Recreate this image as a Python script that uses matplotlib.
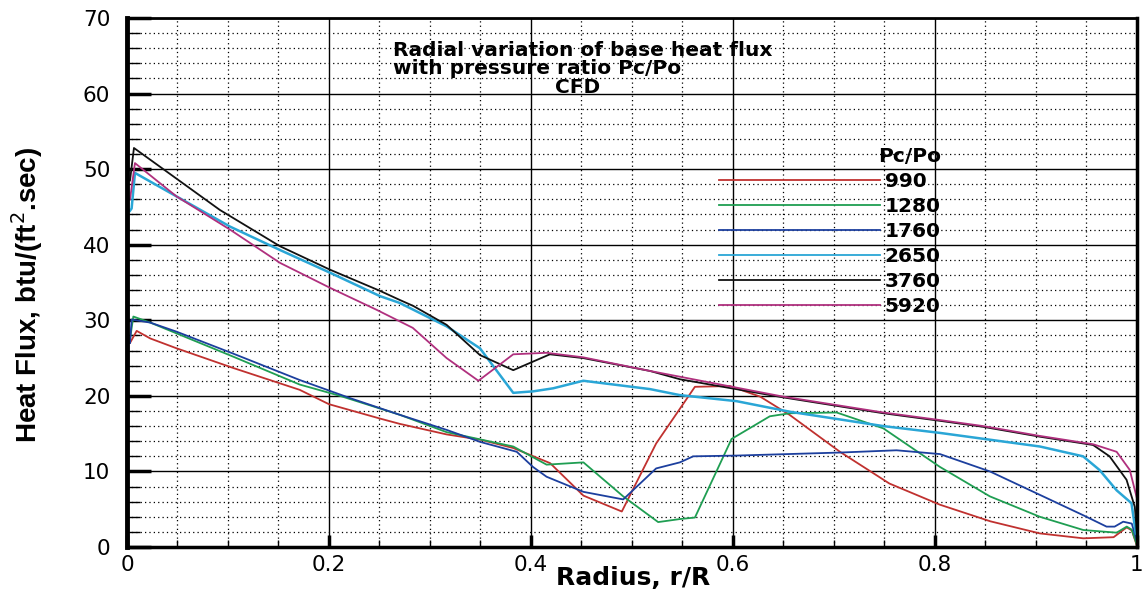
"""Radial variation of base heat flux with pressure ratio Pc/Po (CFD)."""
import matplotlib
matplotlib.use("Agg")
import matplotlib.pyplot as plt
from matplotlib.ticker import MultipleLocator, FuncFormatter

# ---- data (r/R, heat flux) ----
labels = ["990", "1280", "1760", "2650", "3760", "5920"]
colors = ["#c0312f", "#1f9e52", "#1c3f9e", "#2aa6d6", "#111111", "#b0307e"]

r_990 = [0.003, 0.0096, 0.023, 0.049, 0.105, 0.171, 0.2, 0.2505, 0.27, 0.3165,
         0.35, 0.3825, 0.419, 0.452, 0.49, 0.524, 0.5624, 0.597, 0.627, 0.656,
         0.706, 0.755, 0.805, 0.855, 0.904, 0.947, 0.977, 0.990, 0.995, 1.0]
q_990 = [27.0, 28.6, 27.6, 26.3, 23.7, 20.8, 18.9, 17.0, 16.3, 14.9,
         14.2, 13.1, 11.1, 6.8, 4.7, 13.7, 21.2, 21.3, 19.9, 17.5,
         12.6, 8.4, 5.6, 3.4, 1.8, 1.15, 1.3, 2.6, 2.2, 0.2]

r_1280 = [0.003, 0.0063, 0.023, 0.105, 0.171, 0.211, 0.27, 0.3165, 0.3825, 0.4155,
          0.452, 0.4914, 0.526, 0.5475, 0.5624, 0.5987, 0.6366, 0.6564, 0.7027, 0.749,
          0.805, 0.8545, 0.904, 0.947, 0.98, 0.99, 0.995, 1.0]
q_1280 = [27.5, 30.5, 29.7, 25.2, 21.5, 20.0, 17.5, 15.2, 13.3, 10.9,
          11.2, 6.7, 3.3, 3.7, 3.9, 14.3, 17.3, 17.7, 17.8, 15.7,
          10.6, 6.7, 4.0, 2.25, 1.9, 2.7, 2.3, 0.3]

r_1760 = [0.003, 0.0046, 0.023, 0.049, 0.105, 0.171, 0.221, 0.27, 0.3165, 0.35,
          0.386, 0.402, 0.4155, 0.452, 0.4914, 0.524, 0.5475, 0.5607, 0.6036, 0.706,
          0.762, 0.805, 0.8545, 0.904, 0.947, 0.97, 0.978, 0.9865, 0.995, 1.0]
q_1760 = [27.0, 30.1, 29.7, 28.5, 25.6, 22.1, 19.7, 17.5, 15.5, 13.9,
          12.6, 10.6, 9.3, 7.3, 6.3, 10.4, 11.2, 12.0, 12.1, 12.5,
          12.8, 12.3, 10.0, 6.9, 4.2, 2.7, 2.7, 3.35, 3.1, 0.8]

r_2650 = [0.003, 0.0046, 0.0079, 0.049, 0.102, 0.1515, 0.201, 0.2505, 0.27, 0.3165,
          0.3495, 0.3825, 0.4023, 0.422, 0.4518, 0.5178, 0.5475, 0.6036, 0.6564, 0.749,
          0.805, 0.904, 0.9468, 0.963, 0.98, 0.9947, 0.999]
q_2650 = [44.5, 44.8, 49.5, 46.4, 42.4, 39.3, 36.3, 33.2, 32.3, 29.2,
          26.3, 20.4, 20.6, 21.0, 22.0, 20.9, 20.1, 19.3, 17.9, 16.0,
          15.1, 13.3, 12.0, 10.2, 7.5, 5.8, 1.8]

r_3760 = [0.003, 0.0069, 0.036, 0.092, 0.1515, 0.201, 0.2505, 0.27, 0.2835, 0.3165,
          0.3495, 0.3825, 0.4188, 0.4518, 0.5178, 0.5475, 0.6498, 0.749, 0.805, 0.848,
          0.904, 0.9567, 0.973, 0.9898, 0.998, 1.0]
q_3760 = [48.5, 52.8, 50.0, 44.6, 39.8, 36.7, 33.9, 32.7, 31.9, 29.4,
          25.4, 23.4, 25.5, 25.0, 23.3, 22.2, 19.8, 17.7, 16.7, 15.9,
          14.6, 13.5, 12.0, 8.9, 5.3, 2.0]

r_5920 = [0.003, 0.0079, 0.049, 0.102, 0.1515, 0.201, 0.247, 0.283, 0.3165, 0.348,
          0.3825, 0.4155, 0.4518, 0.5178, 0.6498, 0.749, 0.805, 0.848, 0.904, 0.9567,
          0.98, 0.993, 1.0]
q_5920 = [46.0, 50.8, 46.4, 42.0, 37.6, 34.3, 31.4, 29.0, 25.0, 22.0,
          25.5, 25.7, 25.1, 23.3, 19.9, 17.8, 16.8, 16.0, 14.7, 13.6,
          12.6, 10.2, 6.5]

series_r = [r_990, r_1280, r_1760, r_2650, r_3760, r_5920]
series_q = [q_990, q_1280, q_1760, q_2650, q_3760, q_5920]

plt.rcParams["font.family"] = ["DejaVu Sans"]

fig = plt.figure(figsize=(11.46, 6.0), dpi=100)
ax = fig.add_axes([0.1108, 0.0883, 0.8812, 0.8817])

for r, q, lab, c in zip(series_r, series_q, labels, colors):
    lw = 1.8 if lab == "2650" else 1.3
    ax.plot(r, q, color=c, lw=lw, label=lab)

ax.set_xlim(0, 1)
ax.set_ylim(0, 70)
ax.xaxis.set_major_locator(MultipleLocator(0.2))
ax.xaxis.set_minor_locator(MultipleLocator(0.05))
ax.yaxis.set_major_locator(MultipleLocator(10))
ax.yaxis.set_minor_locator(MultipleLocator(2))


def fmt_x(v, pos):
    if abs(v) < 1e-9:
        return "0"
    if abs(v - 1) < 1e-9:
        return "1"
    return f"{v:.1f}"


ax.xaxis.set_major_formatter(FuncFormatter(fmt_x))

ax.grid(which="major", color="black", lw=1.0, ls="-")
ax.grid(which="minor", color="black", lw=0.9, ls=(0, (1, 2.5)))
ax.set_axisbelow(True)

ax.tick_params(which="major", direction="in", width=2.5, labelsize=15.5,
               top=False, right=False)
ax.tick_params(axis="y", which="major", length=17, pad=12)
ax.tick_params(axis="x", which="major", length=9, pad=6)
ax.tick_params(which="minor", direction="in", width=1.0, top=False, right=False)
ax.tick_params(axis="y", which="minor", length=9)
ax.tick_params(axis="x", which="minor", length=5)

ax.spines["left"].set_linewidth(3.5)
ax.spines["bottom"].set_linewidth(2.5)
ax.spines["top"].set_linewidth(2.0)
ax.spines["right"].set_linewidth(2.5)

ax.set_xlabel("Radius, r/R", fontsize=18, fontweight="bold", va="center")
ax.xaxis.set_label_coords(0.501, -0.058)
ax.set_ylabel("Heat Flux, btu/(ft$^2$.sec)", fontsize=20, fontweight="bold",
              family=["Liberation Sans", "DejaVu Sans"], va="center")
ax.yaxis.set_label_coords(-0.099, 0.476)

title_kw = dict(transform=ax.transAxes, fontsize=14.5, fontweight="bold",
                va="center")
ax.text(0.263, 0.9395, "Radial variation of base heat flux", ha="left", **title_kw)
ax.text(0.263, 0.905, "with pressure ratio Pc/Po", ha="left", **title_kw)
ax.text(0.4465, 0.869, "CFD", ha="center", **title_kw)

leg = ax.legend(loc="upper left", bbox_to_anchor=(0.576, 0.776), frameon=False,
                title="Pc/Po", alignment="right", handlelength=8.0,
                handletextpad=0.25, labelspacing=0.3, borderpad=0,
                prop=dict(size=14.5, weight="bold"),
                title_fontproperties=dict(size=14.5, weight="bold"))
for line in leg.get_lines():
    line.set_linewidth(1.3)

fig.savefig("out.png", dpi=100)
